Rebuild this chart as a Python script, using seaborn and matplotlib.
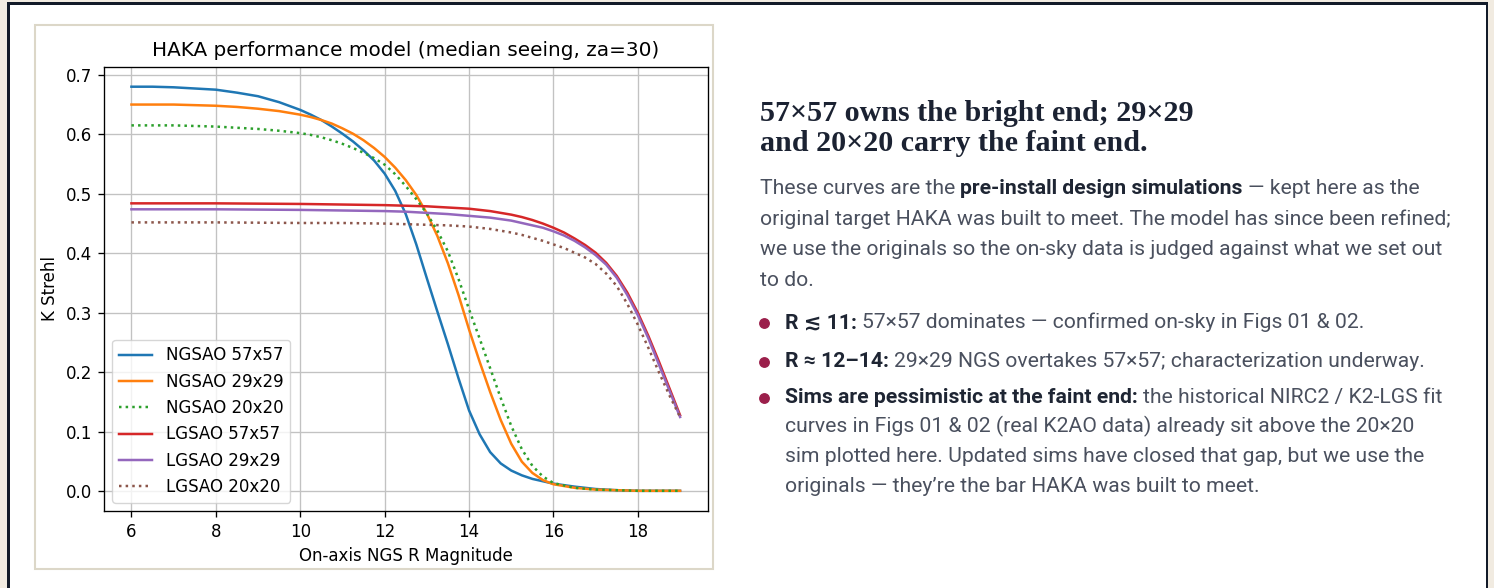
import matplotlib
matplotlib.use("Agg")
import matplotlib.pyplot as plt
import seaborn as sns
import pandas as pd
from matplotlib.patches import Rectangle
from matplotlib.lines import Line2D

# ---------------- data ----------------
mag_ngs = [6, 6.5, 7, 7.5, 8, 8.5, 9, 9.5, 10, 10.25, 10.5, 10.75, 11, 11.25, 11.5, 11.75,
           12, 12.25, 12.5, 12.75, 13, 13.25, 13.5, 13.75, 14, 14.25, 14.5, 14.75, 15,
           15.25, 15.5, 15.75, 16, 16.5, 17, 17.5, 18, 19]
ngs_57 = [0.680, 0.680, 0.679, 0.677, 0.675, 0.670, 0.664, 0.654, 0.641, 0.633, 0.624,
          0.613, 0.601, 0.588, 0.573, 0.556, 0.534, 0.505, 0.466, 0.415, 0.358, 0.302,
          0.247, 0.190, 0.136, 0.096, 0.066, 0.047, 0.035, 0.027, 0.021, 0.017, 0.013,
          0.008, 0.004, 0.002, 0.001, 0.001]
ngs_29 = [0.650, 0.650, 0.650, 0.649, 0.648, 0.646, 0.643, 0.639, 0.633, 0.629, 0.624,
          0.618, 0.610, 0.601, 0.590, 0.577, 0.562, 0.544, 0.523, 0.498, 0.467, 0.429,
          0.383, 0.330, 0.272, 0.218, 0.167, 0.120, 0.080, 0.050, 0.031, 0.019, 0.012,
          0.006, 0.003, 0.002, 0.001, 0.001]
ngs_20 = [0.615, 0.615, 0.615, 0.614, 0.613, 0.611, 0.609, 0.606, 0.602, 0.599, 0.595,
          0.590, 0.584, 0.577, 0.569, 0.560, 0.549, 0.533, 0.513, 0.491, 0.467, 0.438,
          0.403, 0.357, 0.306, 0.257, 0.207, 0.157, 0.110, 0.071, 0.043, 0.025, 0.014,
          0.006, 0.003, 0.002, 0.001, 0.001]

mag_lgs = [6, 8, 10, 11, 12, 12.5, 13, 13.5, 14, 14.5, 15, 15.25, 15.5, 15.75, 16, 16.25,
           16.5, 16.75, 17, 17.25, 17.5, 17.75, 18, 18.25, 18.5, 18.75, 19]
lgs_57 = [0.484, 0.484, 0.483, 0.482, 0.481, 0.480, 0.479, 0.477, 0.475, 0.471, 0.465,
          0.461, 0.456, 0.450, 0.443, 0.435, 0.425, 0.414, 0.401, 0.384, 0.362, 0.334,
          0.300, 0.261, 0.218, 0.173, 0.128]
lgs_29 = [0.474, 0.474, 0.473, 0.472, 0.471, 0.470, 0.468, 0.466, 0.463, 0.460, 0.455,
          0.451, 0.447, 0.443, 0.437, 0.430, 0.421, 0.410, 0.397, 0.381, 0.359, 0.330,
          0.296, 0.257, 0.213, 0.169, 0.125]
lgs_20 = [0.452, 0.452, 0.451, 0.451, 0.450, 0.449, 0.448, 0.447, 0.445, 0.441, 0.435,
          0.431, 0.426, 0.421, 0.415, 0.409, 0.401, 0.393, 0.382, 0.366, 0.345, 0.315,
          0.280, 0.241, 0.200, 0.161, 0.125]

series_labels = ["NGSAO 57x57", "NGSAO 29x29", "NGSAO 20x20",
                 "LGSAO 57x57", "LGSAO 29x29", "LGSAO 20x20"]

chart_title = "HAKA performance model (median seeing, za=30)"
x_label = "On-axis NGS R Magnitude"
y_label = "K Strehl"

heading_lines = ["57×57 owns the bright end; 29×29", "and 20×20 carry the faint end."]

# ---------------- figure ----------------
W, H = 1494, 588
S = 1.2  # scale of the embedded chart image
plt.rcParams.update({
    "font.size": 10 * S,
    "axes.titlesize": 12 * S,
    "axes.labelsize": 10 * S,
    "xtick.labelsize": 10 * S,
    "ytick.labelsize": 10 * S,
    "legend.fontsize": 10 * S,
    "lines.linewidth": 1.5 * S,
    "axes.linewidth": 0.8 * S,
    "grid.linewidth": 0.8 * S,
    "xtick.major.size": 3.5 * S,
    "ytick.major.size": 3.5 * S,
    "xtick.major.width": 0.8 * S,
    "ytick.major.width": 0.8 * S,
    "xtick.major.pad": 3.5 * S,
    "ytick.major.pad": 3.5 * S,
    "axes.titlepad": 6 * S,
    "axes.labelpad": 4 * S,
    "font.family": ["DejaVu Sans"],
})

fig = plt.figure(figsize=(W / 100, H / 100), dpi=100)
fig.patch.set_facecolor("#f1ebe1")


def fx(x):
    return x / W


def fy(y):
    return 1 - y / H


def rect(x0, y0, x1, y1, **kw):
    fig.patches.append(Rectangle((fx(x0), fy(y1)), (x1 - x0) / W, (y1 - y0) / H,
                                 transform=fig.transFigure, figure=fig, **kw))


rect(7.3, 2.3, 1488.3, 640, facecolor="#121a28", edgecolor="none", zorder=-10)
rect(9.5, 4.5, 1486.0, 640, facecolor="white", edgecolor="none", zorder=-9)
rect(34.8, 24.8, 712.8, 568.6, facecolor="white", edgecolor="#dcd7c8", linewidth=1.5, zorder=-8)

ax = fig.add_axes([fx(104), fy(511), (707.5 - 104) / W, (511 - 66.5) / H])

palette = sns.color_palette("tab10")
plot_specs = [
    (mag_ngs, ngs_57, "-", 0), (mag_ngs, ngs_29, "-", 1), (mag_ngs, ngs_20, ":", 2),
    (mag_lgs, lgs_57, "-", 3), (mag_lgs, lgs_29, "-", 4), (mag_lgs, lgs_20, ":", 5),
]
for (xs, ys, ls, ci), lab in zip(plot_specs, series_labels):
    df = pd.DataFrame({"mag": xs, "strehl": ys})
    sns.lineplot(data=df, x="mag", y="strehl", ax=ax, color=palette[ci],
                 linestyle=ls, linewidth=1.5 * S, label=lab, errorbar=None)

ax.grid(True, color="#c2c2c2")
ax.set_axisbelow(True)
ax.set_title(chart_title)
ax.set_xlabel(x_label)
ax.set_ylabel(y_label)
ax.set_xticks([6, 8, 10, 12, 14, 16, 18])
ax.set_yticks([0.0, 0.1, 0.2, 0.3, 0.4, 0.5, 0.6, 0.7])
ax.margins(x=0.05, y=0.05)
ax.legend(loc="lower left")

# ---------------- right-hand text ----------------
renderer = fig.canvas.get_renderer()
BODY = ["Roboto", "DejaVu Sans"]
HEAD = ["Liberation Serif", "DejaVu Serif"]


def width_of(s, **kw):
    t = fig.text(0, 0, "|" + s + "|", **kw)
    w1 = t.get_window_extent(renderer).width
    t.remove()
    t = fig.text(0, 0, "||", **kw)
    w0 = t.get_window_extent(renderer).width
    t.remove()
    return w1 - w0


def fit_size(s, target, base, **kw):
    return base * target / width_of(s, fontsize=base, **kw)


head_size = fit_size(heading_lines[1], 387, 19, family=HEAD, fontweight="bold")
body_size = fit_size("original target HAKA was built to meet. The model has since been refined;",
                     691, 12.3, family=BODY)

HEAD_C = "#1b2232"
BODY_C = "#4a505e"
BOLD_C = "#1e2533"

for line, yb in zip(heading_lines, [121, 151]):
    fig.text(fx(760), fy(yb), line, family=HEAD, fontweight="bold", fontsize=head_size,
             color=HEAD_C, va="baseline", ha="left")


def draw_runs(x, y, runs):
    sp = width_of(" ", fontsize=body_size, family=BODY)
    for s, bold in runs:
        weight = "bold" if bold else "normal"
        color = BOLD_C if bold else BODY_C
        lead = len(s) - len(s.lstrip(" "))
        trail = len(s) - len(s.rstrip(" "))
        core = s.strip(" ")
        x += lead * sp
        fig.text(fx(x), fy(y), core, family=BODY, fontweight=weight, fontsize=body_size,
                 color=color, va="baseline", ha="left")
        x += width_of(core, fontsize=body_size, family=BODY, fontweight=weight)
        x += trail * sp


para = [
    [("These curves are the ", False), ("pre-install design simulations", True),
     (" — kept here as the", False)],
    [("original target HAKA was built to meet. The model has since been refined;", False)],
    [("we use the originals so the on-sky data is judged against what we set out", False)],
    [("to do.", False)],
]
for runs, yb in zip(para, [194, 224.7, 255.3, 286]):
    draw_runs(760, yb, runs)

bullets = [
    ([[("R ≲ 11:", True), (" 57×57 dominates — confirmed on-sky in Figs 01 & 02.", False)]], [328.3]),
    ([[("R ≈ 12–14:", True), (" 29×29 NGS overtakes 57×57; characterization underway.", False)]], [366.7]),
    ([[("Sims are pessimistic at the faint end:", True), (" the historical NIRC2 / K2-LGS fit", False)],
      [("curves in Figs 01 & 02 (real K2AO data) already sit above the 20×20", False)],
      [("sim plotted here. Updated sims have closed that gap, but we use the", False)],
      [("originals — they’re the bar HAKA was built to meet.", False)]],
     [402.7, 432.3, 462.3, 492.3]),
]
for lines, ybs in bullets:
    fig.add_artist(Line2D([fx(763.7)], [fy(ybs[0] - 5)], marker="o", markersize=6.8,
                          color="#9b1f4b", linestyle="none", transform=fig.transFigure))
    for runs, yb in zip(lines, ybs):
        draw_runs(785, yb, runs)

fig.savefig("out.png", dpi=100, facecolor=fig.get_facecolor())
